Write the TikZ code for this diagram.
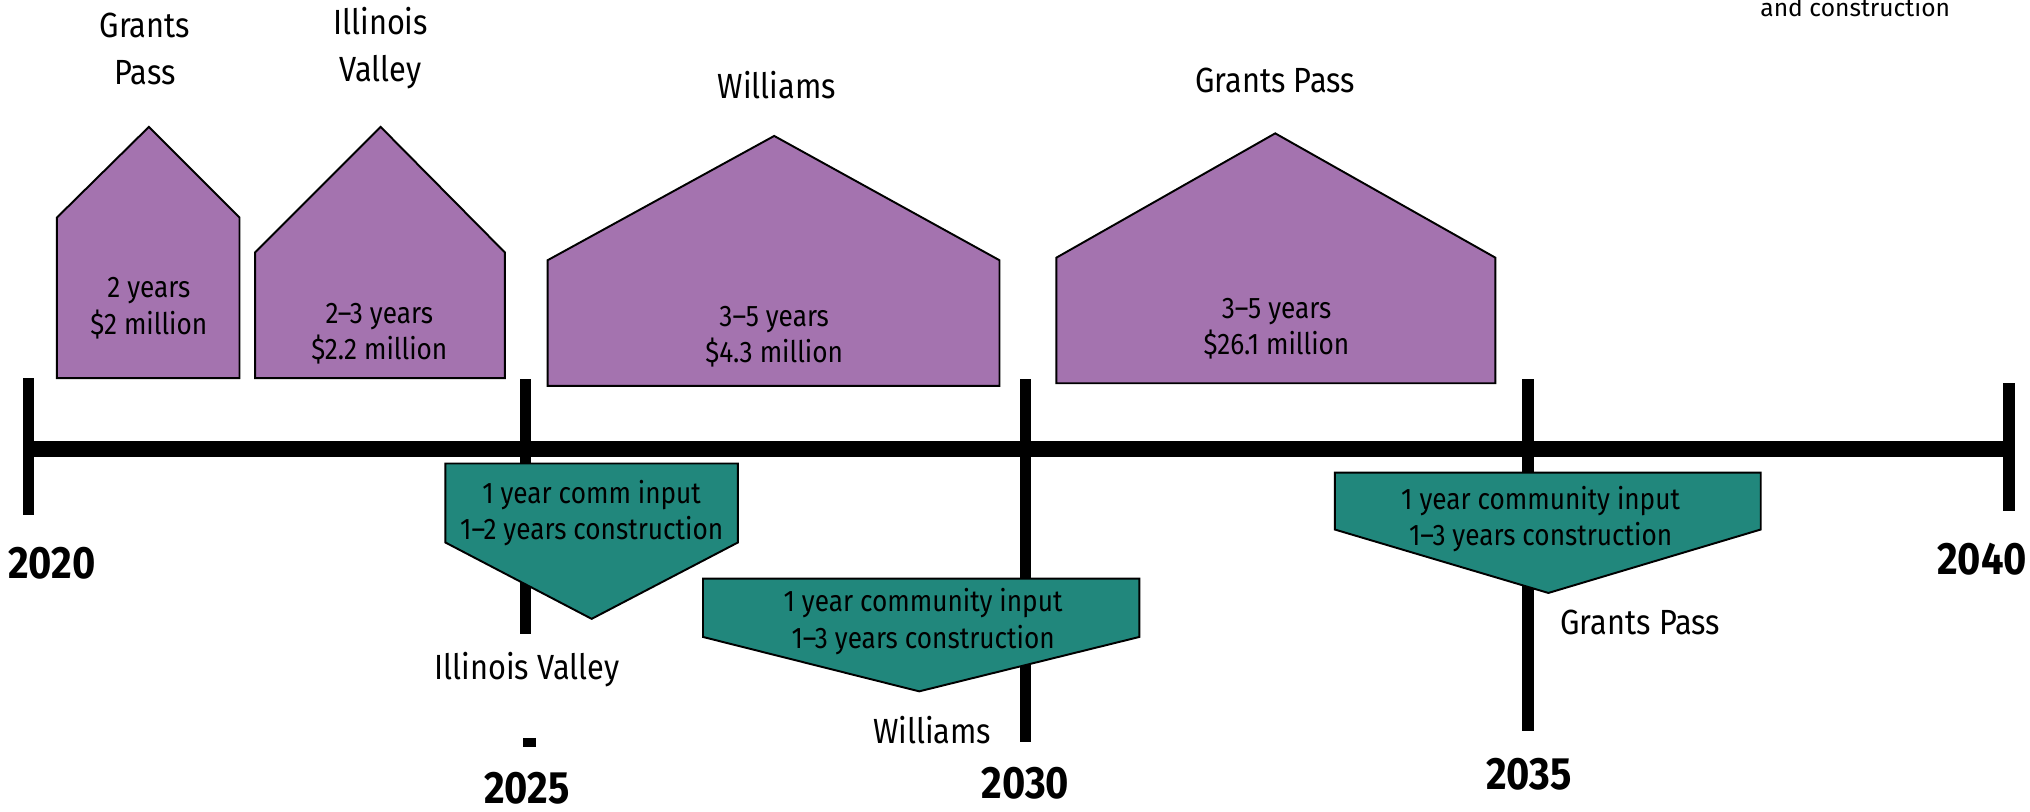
\documentclass[tikz,border=0pt]{standalone}
\usepackage{fontspec}
\setmainfont{Fira Sans}[FakeStretch=0.88]
\newfontfamily\widefont{Fira Sans}
\definecolor{housepurple}{RGB}{164,115,175}
\definecolor{inputteal}{RGB}{33,135,124}
\begin{document}
\begin{tikzpicture}[x=1pt,y=-1pt,
  house/.style={fill=housepurple,draw=black,line width=1.5pt,line join=miter},
  arrowbox/.style={fill=inputteal,draw=black,line width=1.5pt,line join=miter},
  tickline/.style={line width=9pt},
  axisline/.style={line width=12pt},
  lbl/.style={font=\fontsize{27}{36}\selectfont,align=center,inner sep=0pt},
  intext/.style={font=\fontsize{23}{28}\selectfont,align=center,inner sep=0pt},
  yearlbl/.style={font=\fontsize{35}{38}\selectfont\bfseries,inner sep=0pt}]
\useasboundingbox (0,0) rectangle (1568,627);

% ticks
\coordinate (a0) at (22,292);   \coordinate (b0) at (22,398);
\coordinate (a1) at (406,293);  \coordinate (b1) at (406,490);
\coordinate (a2) at (792,293);  \coordinate (b2) at (792,573);
\coordinate (a3) at (1180,293); \coordinate (b3) at (1180,565);
\coordinate (a4) at (1552,296); \coordinate (b4) at (1552,395);
\coordinate (d1) at (409,570);  \coordinate (d2) at (409,577);
\draw[tickline] (a0) -- (b0);
\draw[tickline] (a1) -- (b1);
\draw[tickline] (a2) -- (b2);
\draw[tickline] (a3) -- (b3);
\draw[tickline] (a4) -- (b4);
\draw[line width=10pt] (d1) -- (d2);
% axis
\coordinate (axL) at (22,347); \coordinate (axR) at (1552,347);
\draw[axisline] (axL) -- (axR);

% houses
\draw[house] (44,292) -- (44,168) -- (115,98) -- (185,168) -- (185,292) -- cycle;
\draw[house] (197,292) -- (197,195) -- (294,98) -- (390,195) -- (390,292) -- cycle;
\draw[house] (423,298) -- (423,201) -- (598,105) -- (772,201) -- (772,298) -- cycle;
\draw[house] (816,296) -- (816,199) -- (985,103) -- (1155,199) -- (1155,296) -- cycle;

\node[intext] (h1) at (115,238) {2 years\\\$2 million};
\node[intext] (h2) at (293,258) {2–3 years\\\$2.2 million};
\node[intext] (h3) at (598,260) {3–5 years\\\$4.3 million};
\node[intext] (h4) at (986,254) {3–5 years\\\$26.1 million};

\node[lbl] (l1) at (112,38) {Grants\\Pass};
\node[lbl] (l2) at (294,37) {Illinois\\Valley};
\node[lbl] (l3) at (600,66) {Williams};
\node[lbl] (l4) at (985,62) {Grants Pass};

% input pentagons
\draw[arrowbox] (344,358) -- (570,358) -- (570,419) -- (457,478) -- (344,419) -- cycle;
\draw[arrowbox] (543,447) -- (880,447) -- (880,492) -- (710,534) -- (543,492) -- cycle;
\draw[arrowbox] (1031,365) -- (1360,365) -- (1360,409) -- (1196,458) -- (1031,409) -- cycle;

\node[intext] (p1) at (457,396) {1 year comm input\\1–2 years construction};
\node[intext] (p2) at (713,480) {1 year community input\\1–3 years construction};
\node[intext] (p3) at (1190,401) {1 year community input\\1–3 years construction};

\node[lbl] (q1) at (407,517) {Illinois Valley};
\node[lbl] (q2) at (720,564) {Williams};
\node[lbl] (q3) at (1267,481) {Grants Pass};

% years
\node[yearlbl] (y0) at (40,435) {2020};
\node[yearlbl] (y1) at (407,609) {2025};
\node[yearlbl] (y2) at (792,605) {2030};
\node[yearlbl] (y3) at (1181,598) {2035};
\node[yearlbl] (y4) at (1531,432) {2040};

\node[font=\widefont\fontsize{19}{22}\selectfont,inner sep=0pt,anchor=base] (top) at (1433,12.5) {and construction};
\end{tikzpicture}
\end{document}
